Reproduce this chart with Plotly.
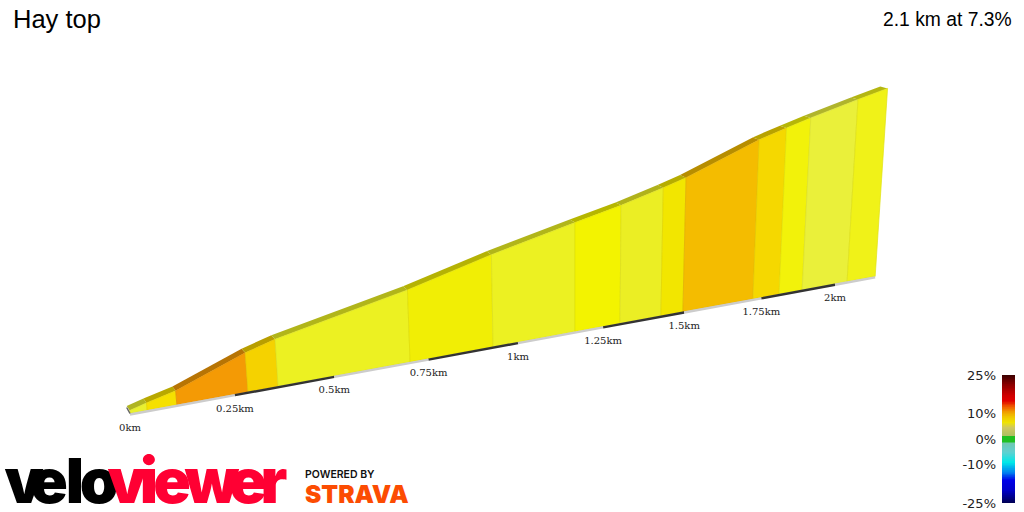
import numpy as np
import plotly.graph_objects as go

# climb profile
dist_km = [0, 0.04, 0.11, 0.282, 0.357, 0.70, 0.929, 1.166, 1.301, 1.427, 1.496, 1.722, 1.809, 1.887, 2.042, 2.141]
elev_m = [2, 5, 9.5, 26.9, 32.7, 52, 68, 82.5, 90.5, 99.4, 104.8, 127, 133.7, 139.4, 149.7, 156]
seg_colors = ["#e9f02e", "#f5e000", "#f49a05", "#f5d200", "#ecf122", "#f1ee05", "#ecf122", "#f3f300",
              "#ebee24", "#f2e600", "#f4bc00", "#f5d800", "#f2f20a", "#eaf03a", "#f0f218"]
tick_km = [0, 0.25, 0.5, 0.75, 1, 1.25, 1.5, 1.75, 2]
tick_labels = ["0km", "0.25km", "0.5km", "0.75km", "1km", "1.25km", "1.5km", "1.75km", "2km"]

grade_stops = [-25, -20, -16, -13, -9, -5, -1.5, -1, 1, 1.5, 4.5, 6.5, 8.5, 10.5, 12.5, 15, 17, 21, 25]
grade_colors = ["#000050", "#0000c8", "#0000e8", "#0080f0", "#00e8e8", "#60d0d0", "#70c8b0", "#20c020", "#20c020",
                "#b0c060", "#d0c860", "#f0e400", "#f0c800", "#f0a000", "#f06000", "#e00000", "#d00000", "#900000", "#3a0000"]
grade_ticks = [25, 10, 0, -10, -25]

logo_letters = ["v", "e", "l", "o", "v", "i", "e", "w", "e", "r"]
logo_x = [24, 49, 75, 99, 127, 149, 172, 212, 248, 274]
logo_colors = ["#000000"] * 4 + ["#ff0033"] * 6


def project(d, e):
    # rough perspective used by the 3d profile
    s = 1 + 0.112 * np.asarray(d, dtype=float)
    t = 431.5 * np.asarray(d, dtype=float) / s
    bx = 130 + t
    by = 413.5 - 0.184 * t
    h = 1.494 * np.asarray(e, dtype=float) / s
    return bx + h * 0.00022 * (bx - 575), by - h


def darker(col, f):
    r, g, b = [int(col[i:i + 2], 16) for i in (1, 3, 5)]
    return f"rgb({r * f:.0f},{g * f:.0f},{b * f:.0f})"


fig = go.Figure()

for i, col in enumerate(seg_colors):
    d = np.array(dist_km[i:i + 2])
    e = np.array(elev_m[i:i + 2])
    x0, y0 = project(d, 0 * e)
    x1, y1 = project(d, e)
    bx = x1 - 3 - 2 * d
    by = y1 - 4.5 + 1.2 * d
    fig.add_trace(go.Scatter(
        x=[x1[0], x1[1], bx[1], bx[0], x1[0]], y=[y1[0], y1[1], by[1], by[0], y1[0]],
        mode="lines", fill="toself", fillcolor=darker(col, 0.75), line=dict(width=0),
    ))
    fig.add_trace(go.Scatter(
        x=[x0[0], x0[1], x1[1], x1[0], x0[0]], y=[y0[0], y0[1], y1[1], y1[0], y0[0]],
        mode="lines", fill="toself", fillcolor=col, line=dict(color=darker(col, 0.93), width=0.7),
    ))

# road edge along the bottom, dark every other quarter km
edge = [0] + tick_km[1:] + [dist_km[-1]]
for i in range(len(edge) - 1):
    x, y = project(edge[i:i + 2], [0, 0])
    fig.add_trace(go.Scatter(
        x=x, y=y + 1, mode="lines",
        line=dict(color="#333333" if i % 2 else "#cccccc", width=2.4),
    ))

# dark end cap where the road starts
x, y = project([0, 0], [0, elev_m[0]])
fig.add_trace(go.Scatter(x=x - [0, 3], y=y - [0, 3], mode="lines", line=dict(color="#666666", width=1.5)))

x, y = project(tick_km, [0] * len(tick_km))
fig.add_trace(go.Scatter(
    x=x, y=y + 15, mode="text", text=tick_labels,
    textfont=dict(family="DejaVu Serif", size=10, color="#222222"),
))

fig.add_trace(go.Scatter(
    x=logo_x, y=[487] * len(logo_x), mode="text", text=logo_letters,
    textfont=dict(family="Inter", size=62, weight=900, color=logo_colors),
))

fig.add_trace(go.Heatmap(
    z=np.arange(-25, 25.25, 0.25).reshape(-1, 1), y=np.arange(-25, 25.25, 0.25), x=[0],
    xaxis="x2", yaxis="y2", showscale=False, zmin=-25, zmax=25,
    colorscale=[[(g + 25) / 50, c] for g, c in zip(grade_stops, grade_colors)],
))

fig.add_annotation(x=11, y=19, text="Hay top", showarrow=False, xanchor="left",
                   font=dict(family="Liberation Sans", size=25.5, color="#000000"))
fig.add_annotation(x=1014, y=19, text="2.1 km at 7.3%", showarrow=False, xanchor="right",
                   font=dict(family="Liberation Sans", size=19.3, color="#000000"))
fig.add_annotation(x=303, y=474, text="POWERED BY", showarrow=False, xanchor="left",
                   font=dict(family="Inter", size=10.5, weight=600, color="#111111"))
fig.add_annotation(x=303, y=494, text="STRAVA", showarrow=False, xanchor="left",
                   font=dict(family="Inter", size=24.5, weight=900, color="#fc4c02"))

fig.update_layout(
    width=1024, height=512, margin=dict(l=0, r=0, t=0, b=0, autoexpand=False), showlegend=False,
    paper_bgcolor="#ffffff", plot_bgcolor="#ffffff",
    xaxis=dict(range=[0, 1024], domain=[0, 1], visible=False, automargin=False),
    yaxis=dict(range=[512, 0], domain=[0, 1], visible=False, automargin=False),
    xaxis2=dict(domain=[1002 / 1024, 1015 / 1024], visible=False, anchor="y2", automargin=False),
    yaxis2=dict(domain=[9 / 512, 137 / 512], range=[-25, 25], anchor="x2", side="left", automargin=False,
                tickvals=grade_ticks, ticktext=[f"{g}%" for g in grade_ticks],
                ticks="", showgrid=False, zeroline=False, showline=False,
                tickfont=dict(family="DejaVu Sans", size=13, color="#222222"), ticklabelstandoff=5),
)

fig.write_html("out.html", config={"displayModeBar": False}, post_script="document.body.style.margin='0';")
